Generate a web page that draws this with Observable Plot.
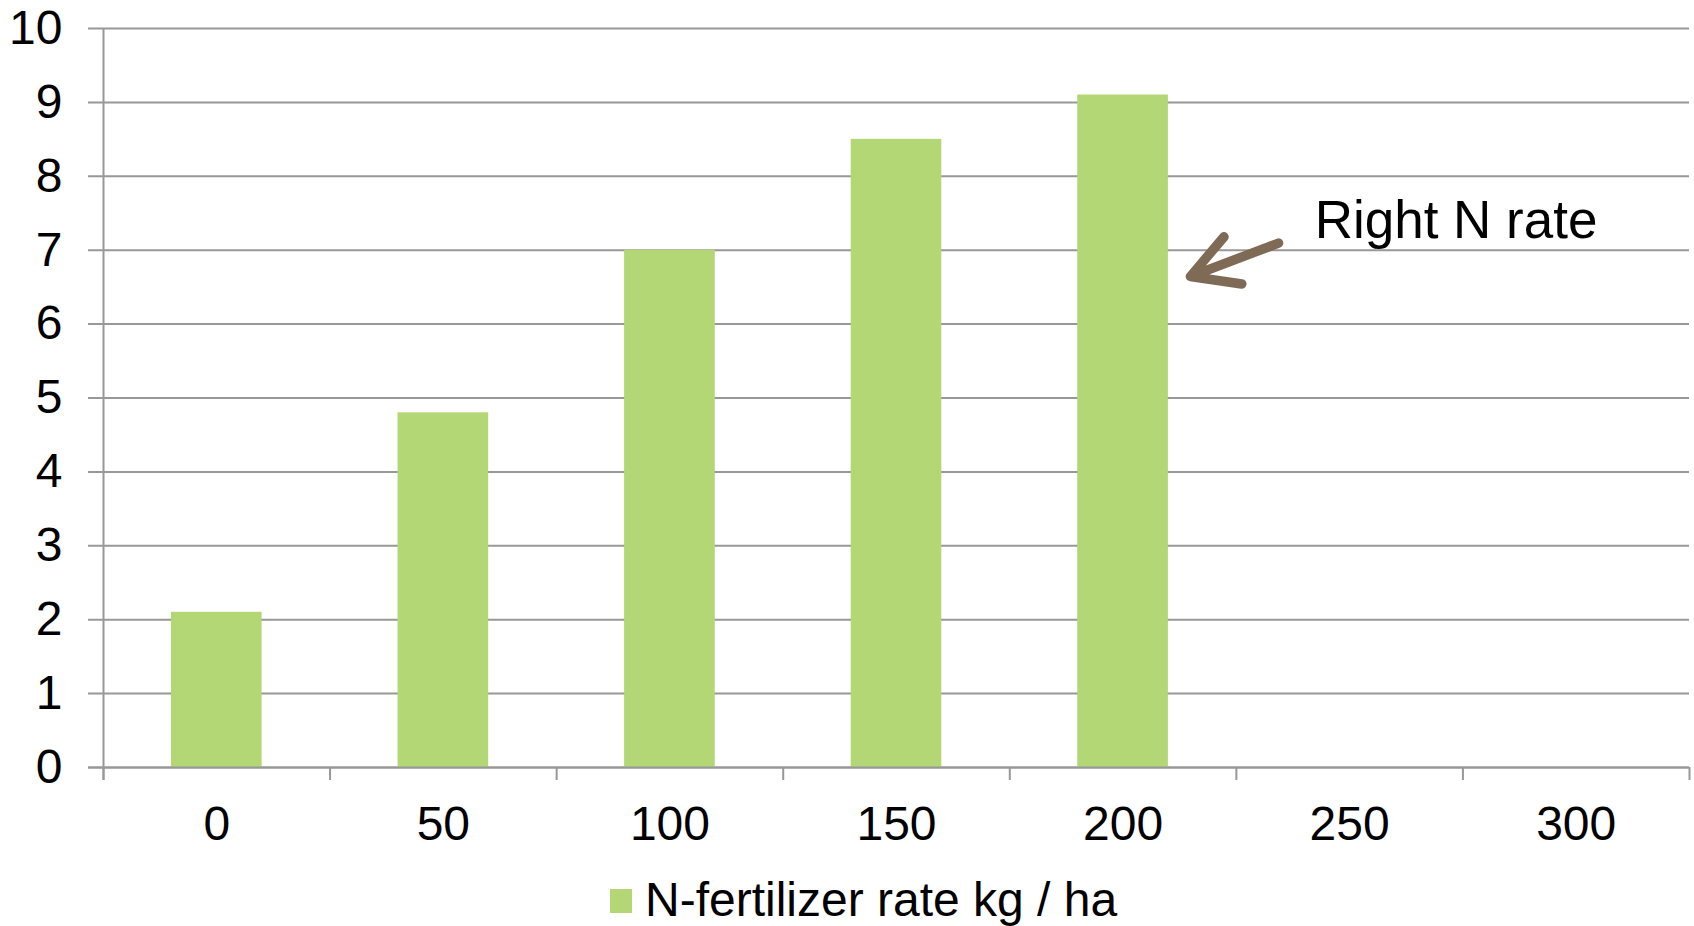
<!DOCTYPE html>
<html>
<head>
<meta charset="utf-8">
<script src="https://cdn.jsdelivr.net/npm/d3@7"></script>
<script src="https://cdn.jsdelivr.net/npm/@observablehq/plot@0.6"></script>
<style>
  html, body { margin: 0; padding: 0; background: #fff; }
  body { width: 1694px; height: 926px; overflow: hidden; font-family: "Liberation Sans", Arial, sans-serif; }
  #legend { position: relative; height: 56px; }
  #legend .swatch { position: absolute; left: 610px; top: 19px; width: 22px; height: 24px; background: #b3d774; }
  #legend .label { position: absolute; left: 645px; top: 2px; font-size: 48px; line-height: 56px; color: #000; white-space: nowrap; }
</style>
</head>
<body>
<div id="chart"></div>
<div id="legend"><span class="swatch"></span><span class="label">N-fertilizer rate kg / ha</span></div>
<script>
// N-fertilizer rate (kg/ha) categories and the measured values for each
const rates = ["0", "50", "100", "150", "200", "250", "300"];
const measuredRates = ["0", "50", "100", "150", "200"];
const values = [2.1, 4.8, 7.0, 8.5, 9.1];
const yTicks = [0, 1, 2, 3, 4, 5, 6, 7, 8, 9, 10];

// annotation pointing at the 200 kg/ha bar
const noteText = "Right N rate";
const noteAt = {rate: "250", value: 7.4};
const arrowFrom = {rate: "250", value: 7.46};
const arrowTo = {rate: "200", value: 6.3};

const data = measuredRates.map((rate, i) => ({rate, value: values[i]}));

const width = 1694, height = 870;
const marginLeft = 103, marginRight = 5, marginTop = 28, marginBottom = 103;
const step = (width - marginLeft - marginRight) / rates.length;
const barInset = step * 0.3;
const tickLength = 13;

const green = "#b3d774";
const grid = "#989898";
const brown = "#7f6a55";

const chart = Plot.plot({
  width, height, marginLeft, marginRight, marginTop, marginBottom,
  style: {fontFamily: "'Liberation Sans', Arial, sans-serif", fontSize: "48px", color: "#000", background: "#fff"},
  x: {type: "band", domain: rates, padding: 0, round: false, label: null},
  y: {domain: [0, 10], label: null},
  marks: [
    // horizontal gridlines, with the small tick stubs left of the axis
    Plot.ruleY(yTicks, {stroke: grid, strokeWidth: 2, insetLeft: -15}),
    Plot.barY(data, {x: "rate", y: "value", fill: green, insetLeft: barInset, insetRight: barInset}),
    // baseline and vertical axis
    Plot.ruleY([0], {stroke: grid, strokeWidth: 2, insetLeft: -15}),
    Plot.ruleX([rates[0]], {stroke: grid, strokeWidth: 2, dx: -step / 2, insetBottom: -tickLength}),
    // category separator ticks below the baseline
    Plot.ruleX(rates, {y1: 0, y2: 0, stroke: grid, strokeWidth: 2, dx: -step / 2, insetBottom: -tickLength}),
    Plot.ruleX([rates[rates.length - 1]], {y1: 0, y2: 0, stroke: grid, strokeWidth: 2, dx: step / 2, insetBottom: -tickLength}),
    Plot.axisY({ticks: yTicks, tickSize: 0, tickPadding: 41, fontSize: 48, label: null}),
    Plot.axisX({tickSize: 0, tickPadding: 38, fontSize: 48, label: null}),
    Plot.arrow([{}], {
      x1: () => arrowFrom.rate, y1: () => arrowFrom.value,
      x2: () => arrowTo.rate, y2: () => arrowTo.value,
      stroke: brown, strokeWidth: 9.5, headLength: 8.2, headAngle: 58,
      insetStart: 76, insetEnd: 72, strokeLinecap: "round", strokeLinejoin: "miter"
    }),
    Plot.text([noteText], {x: () => noteAt.rate, y: () => noteAt.value, text: (d) => d,
      textAnchor: "start", dx: -35, fontSize: 53, fill: "#000"})
  ]
});
document.getElementById("chart").append(chart);
</script>
</body>
</html>
